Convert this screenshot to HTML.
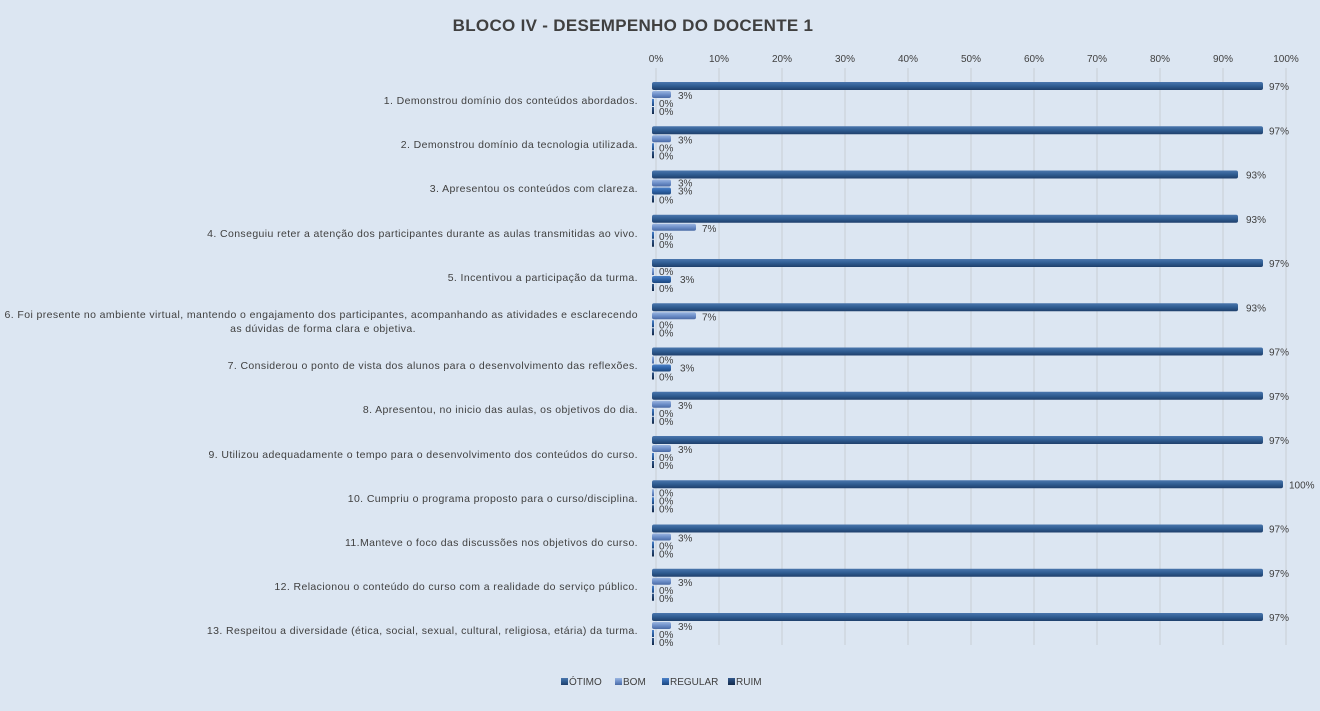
<!DOCTYPE html>
<html><head><meta charset="utf-8"><style>
html,body{margin:0;padding:0;background:#dce6f2;}
svg{display:block;font-family:"Liberation Sans",sans-serif;}
</style></head><body>
<svg width="1320" height="711" viewBox="0 0 1320 711" xmlns="http://www.w3.org/2000/svg">
<defs>
<linearGradient id="go" x1="0" y1="0" x2="0" y2="1"><stop offset="0" stop-color="#4a76ad"/><stop offset="0.5" stop-color="#2f5c91"/><stop offset="1" stop-color="#1f3f6b"/></linearGradient>
<linearGradient id="gb" x1="0" y1="0" x2="0" y2="1"><stop offset="0" stop-color="#9bb5e0"/><stop offset="0.5" stop-color="#6d8fc9"/><stop offset="1" stop-color="#4a6aa5"/></linearGradient>
<linearGradient id="gr" x1="0" y1="0" x2="0" y2="1"><stop offset="0" stop-color="#4d82c8"/><stop offset="0.5" stop-color="#2e63a8"/><stop offset="1" stop-color="#1d477e"/></linearGradient>
<linearGradient id="gu" x1="0" y1="0" x2="0" y2="1"><stop offset="0" stop-color="#34598c"/><stop offset="0.5" stop-color="#1f3f6b"/><stop offset="1" stop-color="#132a4b"/></linearGradient>
</defs>
<rect width="1320" height="711" fill="#dce6f2"/>
<text x="633" y="31" text-anchor="middle" font-size="17" font-weight="bold" fill="#404040" letter-spacing="0.3">BLOCO IV - DESEMPENHO  DO DOCENTE 1</text>
<g stroke="#c8cdd4" stroke-width="1">
<line x1="656" y1="68" x2="656" y2="645"/><line x1="719" y1="68" x2="719" y2="645"/><line x1="782" y1="68" x2="782" y2="645"/><line x1="845" y1="68" x2="845" y2="645"/><line x1="908" y1="68" x2="908" y2="645"/><line x1="971" y1="68" x2="971" y2="645"/><line x1="1034" y1="68" x2="1034" y2="645"/><line x1="1097" y1="68" x2="1097" y2="645"/><line x1="1160" y1="68" x2="1160" y2="645"/><line x1="1223" y1="68" x2="1223" y2="645"/><line x1="1286" y1="68" x2="1286" y2="645"/>
</g>
<g font-size="10" fill="#404040" text-anchor="middle">
<text x="656" y="62">0%</text><text x="719" y="62">10%</text><text x="782" y="62">20%</text><text x="845" y="62">30%</text><text x="908" y="62">40%</text><text x="971" y="62">50%</text><text x="1034" y="62">60%</text><text x="1097" y="62">70%</text><text x="1160" y="62">80%</text><text x="1223" y="62">90%</text><text x="1286" y="62">100%</text>
</g>
<g font-size="10.5" fill="#404040" text-anchor="end" letter-spacing="0.4">
<text x="638" y="104">1. Demonstrou domínio dos conteúdos abordados.</text>
<text x="638" y="148">2. Demonstrou domínio da tecnologia utilizada.</text>
<text x="638" y="192">3. Apresentou os conteúdos com clareza.</text>
<text x="638" y="237">4. Conseguiu reter a atenção dos participantes durante as aulas transmitidas ao vivo.</text>
<text x="638" y="281">5. Incentivou a participação da turma.</text>
<text x="638" y="318">6. Foi presente no ambiente virtual, mantendo o engajamento dos participantes, acompanhando as atividades e esclarecendo</text>
<text x="323" y="332" text-anchor="middle">as dúvidas de forma clara e objetiva.</text>
<text x="638" y="369">7. Considerou o ponto de vista dos alunos para o desenvolvimento das reflexões.</text>
<text x="638" y="413">8. Apresentou, no inicio das aulas, os objetivos do dia.</text>
<text x="638" y="458">9. Utilizou adequadamente o tempo para o desenvolvimento dos conteúdos do curso.</text>
<text x="638" y="502">10. Cumpriu o programa proposto para o curso/disciplina.</text>
<text x="638" y="546">11.Manteve o foco das discussões nos objetivos do curso.</text>
<text x="638" y="590">12. Relacionou o conteúdo do curso com a realidade do serviço público.</text>
<text x="638" y="634">13. Respeitou a diversidade (ética, social, sexual, cultural, religiosa, etária) da turma.</text>
</g>
<g font-size="10" fill="#404040">
<g transform="translate(0,0)">
<rect x="652" y="82" width="611" height="8" rx="2" fill="url(#go)"/><text x="1269" y="90">97%</text>
<rect x="652" y="91" width="19" height="7" rx="2" fill="url(#gb)"/><text x="678" y="99">3%</text>
<rect x="652" y="99" width="2" height="7" fill="url(#gr)"/><text x="659" y="107">0%</text>
<rect x="652" y="107" width="2" height="7" fill="url(#gu)"/><text x="659" y="115">0%</text>
</g>
<g transform="translate(0,44.25)">
<rect x="652" y="82" width="611" height="8" rx="2" fill="url(#go)"/><text x="1269" y="90">97%</text>
<rect x="652" y="91" width="19" height="7" rx="2" fill="url(#gb)"/><text x="678" y="99">3%</text>
<rect x="652" y="99" width="2" height="7" fill="url(#gr)"/><text x="659" y="107">0%</text>
<rect x="652" y="107" width="2" height="7" fill="url(#gu)"/><text x="659" y="115">0%</text>
</g>
<g transform="translate(0,88.5)">
<rect x="652" y="82" width="586" height="8" rx="2" fill="url(#go)"/><text x="1246" y="90">93%</text>
<rect x="652" y="91" width="19" height="7" rx="2" fill="url(#gb)"/><text x="678" y="98">3%</text>
<rect x="652" y="99" width="19" height="7" rx="2" fill="url(#gr)"/><text x="678" y="106">3%</text>
<rect x="652" y="107" width="2" height="7" fill="url(#gu)"/><text x="659" y="115">0%</text>
</g>
<g transform="translate(0,132.75)">
<rect x="652" y="82" width="586" height="8" rx="2" fill="url(#go)"/><text x="1246" y="90">93%</text>
<rect x="652" y="91" width="44" height="7" rx="2" fill="url(#gb)"/><text x="702" y="99">7%</text>
<rect x="652" y="99" width="2" height="7" fill="url(#gr)"/><text x="659" y="107">0%</text>
<rect x="652" y="107" width="2" height="7" fill="url(#gu)"/><text x="659" y="115">0%</text>
</g>
<g transform="translate(0,177)">
<rect x="652" y="82" width="611" height="8" rx="2" fill="url(#go)"/><text x="1269" y="90">97%</text>
<rect x="652" y="91" width="2" height="7" fill="url(#gb)"/><text x="659" y="98">0%</text>
<rect x="652" y="99" width="19" height="7" rx="2" fill="url(#gr)"/><text x="680" y="106">3%</text>
<rect x="652" y="107" width="2" height="7" fill="url(#gu)"/><text x="659" y="115">0%</text>
</g>
<g transform="translate(0,221.25)">
<rect x="652" y="82" width="586" height="8" rx="2" fill="url(#go)"/><text x="1246" y="90">93%</text>
<rect x="652" y="91" width="44" height="7" rx="2" fill="url(#gb)"/><text x="702" y="99">7%</text>
<rect x="652" y="99" width="2" height="7" fill="url(#gr)"/><text x="659" y="107">0%</text>
<rect x="652" y="107" width="2" height="7" fill="url(#gu)"/><text x="659" y="115">0%</text>
</g>
<g transform="translate(0,265.5)">
<rect x="652" y="82" width="611" height="8" rx="2" fill="url(#go)"/><text x="1269" y="90">97%</text>
<rect x="652" y="91" width="2" height="7" fill="url(#gb)"/><text x="659" y="98">0%</text>
<rect x="652" y="99" width="19" height="7" rx="2" fill="url(#gr)"/><text x="680" y="106">3%</text>
<rect x="652" y="107" width="2" height="7" fill="url(#gu)"/><text x="659" y="115">0%</text>
</g>
<g transform="translate(0,309.75)">
<rect x="652" y="82" width="611" height="8" rx="2" fill="url(#go)"/><text x="1269" y="90">97%</text>
<rect x="652" y="91" width="19" height="7" rx="2" fill="url(#gb)"/><text x="678" y="99">3%</text>
<rect x="652" y="99" width="2" height="7" fill="url(#gr)"/><text x="659" y="107">0%</text>
<rect x="652" y="107" width="2" height="7" fill="url(#gu)"/><text x="659" y="115">0%</text>
</g>
<g transform="translate(0,354)">
<rect x="652" y="82" width="611" height="8" rx="2" fill="url(#go)"/><text x="1269" y="90">97%</text>
<rect x="652" y="91" width="19" height="7" rx="2" fill="url(#gb)"/><text x="678" y="99">3%</text>
<rect x="652" y="99" width="2" height="7" fill="url(#gr)"/><text x="659" y="107">0%</text>
<rect x="652" y="107" width="2" height="7" fill="url(#gu)"/><text x="659" y="115">0%</text>
</g>
<g transform="translate(0,398.25)">
<rect x="652" y="82" width="631" height="8" rx="2" fill="url(#go)"/><text x="1289" y="90">100%</text>
<rect x="652" y="91" width="2" height="7" fill="url(#gb)"/><text x="659" y="98">0%</text>
<rect x="652" y="99" width="2" height="7" fill="url(#gr)"/><text x="659" y="106">0%</text>
<rect x="652" y="107" width="2" height="7" fill="url(#gu)"/><text x="659" y="114">0%</text>
</g>
<g transform="translate(0,442.5)">
<rect x="652" y="82" width="611" height="8" rx="2" fill="url(#go)"/><text x="1269" y="90">97%</text>
<rect x="652" y="91" width="19" height="7" rx="2" fill="url(#gb)"/><text x="678" y="99">3%</text>
<rect x="652" y="99" width="2" height="7" fill="url(#gr)"/><text x="659" y="107">0%</text>
<rect x="652" y="107" width="2" height="7" fill="url(#gu)"/><text x="659" y="115">0%</text>
</g>
<g transform="translate(0,486.75)">
<rect x="652" y="82" width="611" height="8" rx="2" fill="url(#go)"/><text x="1269" y="90">97%</text>
<rect x="652" y="91" width="19" height="7" rx="2" fill="url(#gb)"/><text x="678" y="99">3%</text>
<rect x="652" y="99" width="2" height="7" fill="url(#gr)"/><text x="659" y="107">0%</text>
<rect x="652" y="107" width="2" height="7" fill="url(#gu)"/><text x="659" y="115">0%</text>
</g>
<g transform="translate(0,531)">
<rect x="652" y="82" width="611" height="8" rx="2" fill="url(#go)"/><text x="1269" y="90">97%</text>
<rect x="652" y="91" width="19" height="7" rx="2" fill="url(#gb)"/><text x="678" y="99">3%</text>
<rect x="652" y="99" width="2" height="7" fill="url(#gr)"/><text x="659" y="107">0%</text>
<rect x="652" y="107" width="2" height="7" fill="url(#gu)"/><text x="659" y="115">0%</text>
</g>
</g>
<g font-size="10" fill="#404040">
<rect x="561" y="678" width="7" height="7" fill="url(#go)"/><text x="569" y="685">ÓTIMO</text>
<rect x="615" y="678" width="7" height="7" fill="url(#gb)"/><text x="623" y="685">BOM</text>
<rect x="662" y="678" width="7" height="7" fill="url(#gr)"/><text x="670" y="685">REGULAR</text>
<rect x="728" y="678" width="7" height="7" fill="url(#gu)"/><text x="736" y="685">RUIM</text>
</g>
</svg>
</body></html>
